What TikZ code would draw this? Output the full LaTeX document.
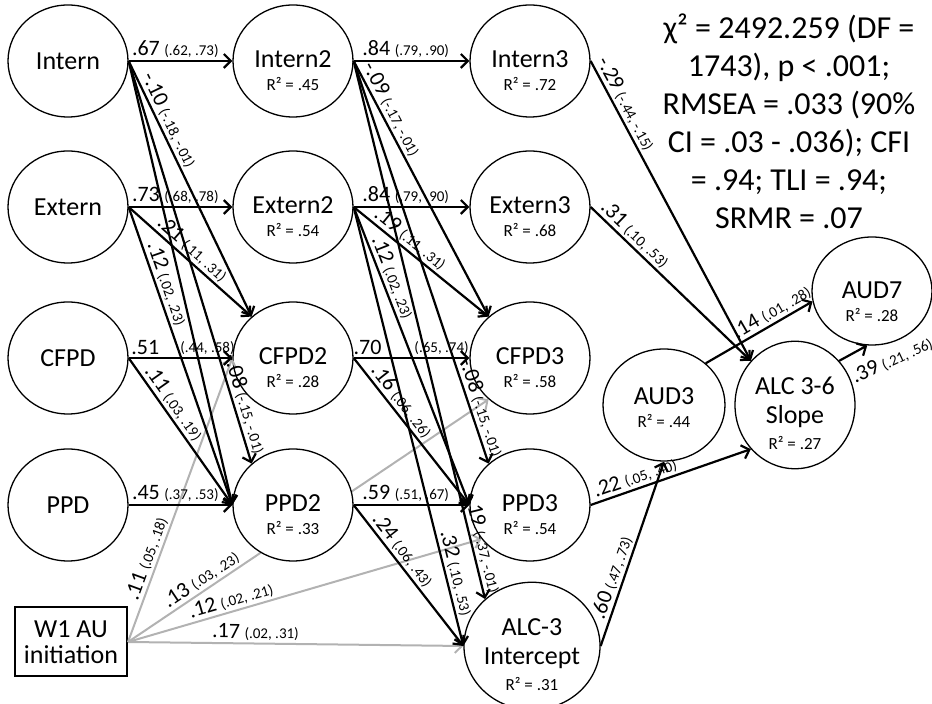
\documentclass[tikz,border=0pt]{standalone}
\usepackage{fontspec}
\setmainfont{Carlito}
\usetikzlibrary{shapes.geometric,arrows.meta,backgrounds}

% estimate and its interval
\newcommand{\est}[1]{{\fontsize{11}{12}\selectfont #1}}
\newcommand{\ci}[1]{{\fontsize{7.5}{8}\selectfont #1}}
\newcommand{\coef}[2]{\est{#1} \ci{#2}}
% variable names with explained variance
\newcommand{\rsqfont}{\fontsize{8.5}{10}\selectfont}
\newcommand{\vlab}[3][18pt]{\rule{0pt}{#1}#2\\{\rsqfont R² = #3}}
\newcommand{\vlabb}[3]{\rule{0pt}{17.5pt}#1\\[3pt]#2\\[1.5pt]{\rsqfont R² = #3}}

\tikzset{
  var/.style={ellipse, draw, line width=0.65pt, fill=white, minimum width=60pt,
    minimum height=56pt, inner sep=0pt, align=center,
    font=\fontsize{13}{11.5}\selectfont},
  coefline/.style={->, line width=1.1pt},
  cov/.style={->, line width=1pt, draw=black!30},
  lbl/.style={sloped, above, inner sep=1pt}
}

\begin{document}
\begin{tikzpicture}[x=0.5pt, y=-0.5pt, >={Straight Barb[length=3.5pt,width=7pt]}]
\useasboundingbox (0,0) rectangle (932,704);

% wave 1
\node[var] (intA)  at (68,61)  {Intern};
\node[var] (extA)  at (68,207) {Extern};
\node[var] (cfpdA) at (68,358) {CFPD};
\node[var] (ppdA)  at (68,505) {PPD};
\node[draw, line width=1pt, minimum width=56pt, minimum height=34.5pt, inner sep=0pt,
  align=center, font=\fontsize{13}{13}\selectfont] (init) at (71,642) {W1 AU\\initiation};

% wave 2
\node[var] (intB)  at (293,61)  {\vlab{Intern2}{.45}};
\node[var] (extB)  at (293,207) {\vlab{Extern2}{.54}};
\node[var] (cfpdB) at (293,358) {\vlab{CFPD2}{.28}};
\node[var] (ppdB)  at (293,505) {\vlab{PPD2}{.33}};

% wave 3
\node[var] (intC)  at (530,61)  {\vlab{Intern3}{.72}};
\node[var] (extC)  at (530,207) {\vlab{Extern3}{.68}};
\node[var] (cfpdC) at (530,358) {\vlab{CFPD3}{.58}};
\node[var] (ppdC)  at (530,505) {\vlab{PPD3}{.54}};
\node[var, minimum height=54pt] (icpt) at (532,646) {\vlabb{ALC-3}{Intercept}{.31}};

% outcomes
\node[var, minimum width=61pt] (aud3) at (664,405) {\vlab[11pt]{AUD3}{.44}};
\node[var] (slope) at (795,405) {\vlabb{ALC 3-6}{Slope}{.27}};
\node[var, minimum height=54pt] (aud7) at (872,291) {\vlab[19.5pt]{AUD7}{.28}};

% fit indices
\node[anchor=north, inner sep=0pt, align=center, font=\fontsize{16}{19}\selectfont]
  (fit) at (789,13)
  {χ² = 2492.259 (DF =\\1743), p < .001;\\RMSEA = .033 (90\%\\CI = .03 - .036); CFI\\= .94; TLI = .94;\\SRMR = .07};

\node[rotate=25, anchor=base west, inner sep=0pt] (lbl39) at (855,384) {\coef{.39}{(.21, .56)}};

% W1 AU initiation, the CFPD3 path runs behind PPD2
\begin{scope}[on background layer]
\draw[cov] (init.east) -- node[lbl, pos=.22] {\coef{.13}{(.03, .23)}} (cfpdC.225);
\end{scope}
\draw[cov] (init.east) -- node[lbl, pos=.28] {\coef{.11}{(.05, .18)}} (cfpdB.west);
\draw[cov] (init.east) -- node[lbl, pos=.30] {\coef{.12}{(.02, .21)}} (ppdC.215);
\draw[cov] (init.east) -- node[lbl, pos=.38] {\coef{.17}{(.02, .31)}} (icpt.west);

% wave 1 -> wave 2
\draw[coefline] (intA.east) -- node[lbl, pos=.45] {\coef{.67}{(.62, .73)}} (intB.west);
\draw[coefline] (intA.east) -- node[lbl, pos=.25] {\coef{-.10}{(-.18, -.01)}} (cfpdB.135);
\draw[coefline] (intA.east) -- node[lbl, pos=.86] {\coef{-.08}{(-.15, -.01)}} (ppdB.135);
\draw[coefline] (intA.east) -- (ppdB.west);
\draw[coefline] (extA.east) -- node[lbl, pos=.45] {\coef{.73}{(.68, .78)}} (extB.west);
\draw[coefline] (extA.east) -- node[lbl, pos=.46] {\coef{.21}{(.11, .31)}} (cfpdB.135);
\draw[coefline] (extA.east) -- node[lbl, pos=.27] {\coef{.12}{(.02, .23)}} (ppdB.west);
\draw[coefline] (cfpdA.east) -- node[lbl, pos=.16] {\est{.51}}
  node[lbl, pos=.76] {\ci{(.44, .58)}} (cfpdB.west);
\draw[coefline] (cfpdA.east) -- node[lbl, pos=.35] {\coef{.11}{(.03, .19)}} (ppdB.west);
\draw[coefline] (ppdA.east) -- node[lbl, pos=.45] {\coef{.45}{(.37, .53)}} (ppdB.west);

% wave 2 -> wave 3
\draw[coefline] (intB.east) -- node[lbl, pos=.45] {\coef{.84}{(.79, .90)}} (intC.west);
\draw[coefline] (intB.east) -- node[lbl, pos=.21] {\coef{-.09}{(-.17, -.01)}} (cfpdC.135);
\draw[coefline] (intB.east) -- node[lbl, pos=.87] {\coef{-.08}{(-.15, -.01)}} (ppdC.135);
\draw[coefline] (intB.east) -- node[lbl, pos=.90] {\coef{-.19}{(-.37, -.01)}} (icpt.135);
\draw[coefline] (extB.east) -- node[lbl, pos=.45] {\coef{.84}{(.79, .90)}} (extC.west);
\draw[coefline] (extB.east) -- node[lbl, pos=.37] {\coef{.19}{(.11, .31)}} (cfpdC.135);
\draw[coefline] (extB.east) -- node[lbl, pos=.25] {\coef{.12}{(.02, .23)}} (ppdC.west);
\draw[coefline] (extB.east) -- node[lbl, pos=.84] {\coef{.32}{(.10, .53)}} (icpt.west);
\draw[coefline] (cfpdB.east) -- node[lbl, pos=.12] {\est{.70}}
  node[lbl, pos=.76] {\ci{(.65, .74)}} (cfpdC.west);
\draw[coefline] (cfpdB.east) -- node[lbl, pos=.34] {\coef{.16}{(.06, .26)}} (ppdC.west);
\draw[coefline] (ppdB.east) -- node[lbl, pos=.45] {\coef{.59}{(.51, .67)}} (ppdC.west);
\draw[coefline] (ppdB.east) -- node[lbl, pos=.37] {\coef{.24}{(.06, .43)}} (icpt.west);

% wave 3 -> outcomes
\draw[coefline] (intC.east) -- node[lbl, pos=.16] {\coef{-.29}{(-.44, -.15)}} (slope.135);
\draw[coefline] (extC.east) -- node[lbl, pos=.23] {\coef{.31}{(.10, .53)}} (slope.135);
\draw[coefline] (ppdC.east) -- node[lbl, pos=.30] {\coef{.22}{(.05, .40)}} (slope.225);
\draw[coefline] (icpt.east) -- node[lbl, pos=.35] {\coef{.60}{(.47, .73)}} (aud3.south);
\draw[coefline] (aud3.45) -- node[lbl, pos=.67] {\coef{.14}{(.01, .28)}} (aud7.190);
\draw[coefline] (slope.45) -- (aud7.265);
\end{tikzpicture}
\end{document}
